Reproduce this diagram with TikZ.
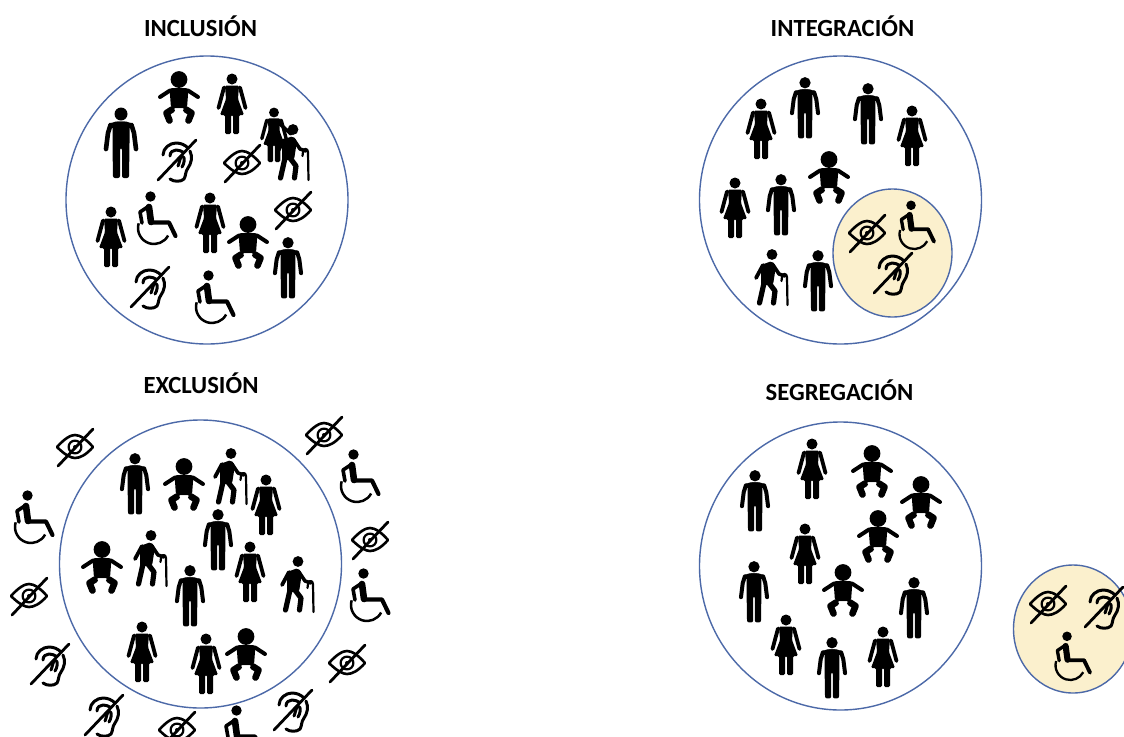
\documentclass[tikz,border=0pt]{standalone}
\usepackage{fontspec}
\setmainfont{Carlito}
\newcommand\IcBegin[3]{\begin{scope}[shift={(#1,#2)},scale=#3]\def\ics{#3}}
\newcommand\IcEnd{\end{scope}}
\tikzset{
  ringline/.style={draw=ringblue,line width=1.05pt},
  yellowring/.style={draw=ringblue,line width=1.05pt,fill=softyellow},
  titletext/.style={font=\bfseries\fontsize{18.5}{20}\selectfont,text=black,inner sep=0pt},
  lw/.style={line width=\ics*#1*0.75pt,line cap=round,line join=round},
}
\definecolor{ringblue}{HTML}{4C69A8}
\definecolor{softyellow}{HTML}{FBF0CD}
\newcommand\Man[3]{\IcBegin{#1}{#2}{#3}
  \fill (0,-29) circle (6.5);
  \fill[rounded corners=1.5] (-5,-21.5)--(5,-21.5)--(8.5,-19)--(8.5,2)--(8,35)--(1,35)--(1,5)--(-1,5)--(-1,35)--(-8,35)--(-8.5,2)--(-8.5,-19)--cycle;
  \draw[lw=4.6] (10.5,-18)--(13,-10)--(15,6) (-10.5,-18)--(-13,-10)--(-15,6);
  \fill (-5,-21.5)--(5,-21.5)--(11.5,-19.5)--(9,-15)--(-9,-15)--(-11.5,-19.5)--cycle;
\IcEnd}
\newcommand\Woman[3]{\IcBegin{#1}{#2}{#3}
  \fill (0,-25) circle (5.5);
  \fill[rounded corners=1] (-7,-18.5)--(7,-18.5)--(6,-5)--(12,11)--(7,11)--(7,30)--(1,30)--(1,11)--(-1,11)--(-1,30)--(-7,30)--(-7,11)--(-12,11)--(-6,-5)--cycle;
  \draw[lw=3.8] (8,-16.5)--(13.5,4) (-8,-16.5)--(-13.5,4);
\IcEnd}
\newcommand\Baby[3]{\IcBegin{#1}{#2}{#3}
  \fill (0,-18.5) circle (8.4);
  \fill[rounded corners=2] (-9.5,-10)--(9.5,-10)--(8,10)--(-8,10)--cycle;
  \draw[lw=4] (-9,-7.5)--(-19,-1) (9,-7.5)--(19,-1);
  \draw[lw=6.6] (-7,11.5)--(-12.5,15)--(-9.5,22.5) (7,11.5)--(12.5,15)--(9.5,22.5);
  \fill[white] (-5,10.5)--(5,10.5)--(1.5,16)--(-1.5,16)--cycle;
\IcEnd}
\newcommand\Wheel[3]{\IcBegin{#1}{#2}{#3}
  \fill (-6.5,-22.5) circle (5.2);
  \draw[lw=6.6] (-8,-12)--(-6,3);
  \draw[lw=4.2] (-6,3.5)--(12,3.5)--(18.5,17);
  \draw[lw=3.6] (-8,-13)--(-17,-7)--(-15,4);
  \draw[lw=2.5,line cap=butt] ([shift={(197:16)}]-3,9) arc[start angle=197,end angle=28,radius=16];
\IcEnd}
\newcommand\Ear[3]{\IcBegin{#1}{#2}{#3}
  \draw[lw=3] (-14,-6) .. controls (-14,-13) and (-7,-18) .. (-1,-18) .. controls (4,-18) and (8,-16) .. (11,-13);
  \draw[lw=3] (-7,-5) .. controls (-7,-9) and (-4,-11) .. (-1,-11) .. controls (2,-11) and (4,-10) .. (6,-9);
  \draw[lw=3] (13,-10) .. controls (16,-4) and (14,3) .. (11,7) .. controls (8,11) and (9,15) .. (7,18) .. controls (4,21) and (-3,21) .. (-7,18);
  \draw[lw=3] (1,5) .. controls (3,0) and (3,-4) .. (5,-5) .. controls (9,-4) and (7,3) .. (5,6);
  \draw[lw=2.8] (-19,19)--(19,-21);
\IcEnd}
\newcommand\Eye[3]{\IcBegin{#1}{#2}{#3}
  \draw[lw=2.6] (-18,0) .. controls (-10,-9) and (-4,-12) .. (0,-12) .. controls (5,-12) and (11,-8) .. (18,0) .. controls (11,8) and (5,11) .. (0,11) .. controls (-4,11) and (-10,8) .. (-18,0) -- cycle;
  \draw[lw=2.2] (0,0) circle (6.4);
  \fill (0,0) circle (2);
  \draw[lw=2.8] (-17,19)--(18,-18);
\IcEnd}
\newcommand\Elder[3]{\IcBegin{#1}{#2}{#3}
  \fill (1,-22.5) circle (5.4);
  \fill[rounded corners=1.5] (-10,-12)--(1,-16)--(5,-11)--(2,8)--(-10,8)--cycle;
  \draw[lw=3.8] (-8,-12)--(-15,1);
  \draw[lw=5.2] (-7,6)--(-11.5,26) (-2,6)--(4,14)--(2.5,26);
  \draw[lw=3.6] (2,-12)--(8,-3)--(14,-1);
  \draw[lw=2.2] (10.5,4)--(11,0) .. controls (11,-4) and (16,-4) .. (16,0) -- (16.5,28);
\IcEnd}
\begin{document}
\begin{tikzpicture}[x=0.75pt,y=-0.75pt]
\useasboundingbox (0,0) rectangle (1124,736);
\begin{scope}
\clip (0,0) rectangle (1124,736);
\fill[white] (0,0) rectangle (1124,736);
% titles
\node[titletext] (tInc) at (200.5,26.5) {INCLUSIÓN};
\node[titletext] (tInt) at (842.5,26.5) {INTEGRACIÓN};
\node[titletext] (tExc) at (201,383.5) {EXCLUSIÓN};
\node[titletext] (tSeg) at (839.5,390.5) {SEGREGACIÓN};
% rings
\path[ringline] (207,200) ellipse [x radius=141,y radius=144];
\path[ringline] (840.5,200) ellipse [x radius=141,y radius=144];
\path[ringline] (200.5,564) ellipse [x radius=141,y radius=144];
\path[ringline] (840.5,566) ellipse [x radius=141,y radius=144];
\path[yellowring] (892.5,253) ellipse [x radius=59.5,y radius=64];
\path[yellowring] (1073,629) ellipse [x radius=59.5,y radius=64];
% inclusion
\Man{121}{143}{1}
\Baby{179}{98}{1}
\Woman{232}{104}{1}
\Woman{274}{135}{0.9}
\draw[line width=2.6pt,line cap=round] (280,124)--(291,134);
\Elder{292}{152}{1}
\Ear{177}{161}{1}
\Eye{242}{163}{1}
\Woman{111}{237}{1}
\Wheel{157}{219}{1}
\Woman{210}{223}{1}
\Baby{248}{243}{1}
\Eye{293}{210}{1}
\Man{288}{268}{0.87}
\Ear{150}{288}{1}
\Wheel{215}{298}{1}
% integration
\Woman{761}{129}{1}
\Man{805}{108}{0.87}
\Man{868}{114}{0.87}
\Woman{912}{136}{1}
\Woman{735}{208}{1}
\Man{781}{205}{0.87}
\Baby{829}{178}{1}
\Elder{771}{277}{1}
\Man{818}{281}{0.87}
\Eye{867}{233}{1}
\Wheel{917}{226}{0.92}
\Ear{893}{274}{1}
% exclusion
\Man{135}{484}{0.87}
\Baby{184}{485}{1}
\Elder{230}{476}{1}
\Woman{266}{505}{1}
\Man{218}{540}{0.87}
\Elder{150}{558}{1}
\Baby{102}{568}{1}
\Woman{250}{572}{1}
\Elder{297}{584}{1}
\Man{190}{596}{0.87}
\Woman{142}{652}{1}
\Woman{206}{664}{1}
\Baby{246}{655}{1}
\Eye{75}{447}{1}
\Eye{324}{435}{1}
\Wheel{360}{477}{1}
\Wheel{34}{518}{1}
\Eye{370}{540}{1}
\Eye{29}{596}{1}
\Wheel{370}{596}{1}
\Ear{50}{665}{1}
\Eye{347}{663}{1}
\Ear{104}{716}{1}
\Eye{177}{730}{1}
\Wheel{243}{733}{1}
\Ear{293}{711}{1}
% segregation
\Man{755}{501}{0.87}
\Woman{812}{469}{1}
\Baby{872}{472}{1}
\Baby{921}{503}{1}
\Baby{878}{537}{1}
\Woman{805}{554}{1}
\Man{754}{592}{0.87}
\Baby{843}{591}{1}
\Man{914}{608}{0.87}
\Woman{786}{645}{1}
\Man{832}{668}{0.87}
\Woman{883}{657}{1}
\Eye{1048}{604}{1}
\Ear{1104}{608}{1}
\Wheel{1073}{657}{0.92}
\end{scope}
\end{tikzpicture}
\end{document}
